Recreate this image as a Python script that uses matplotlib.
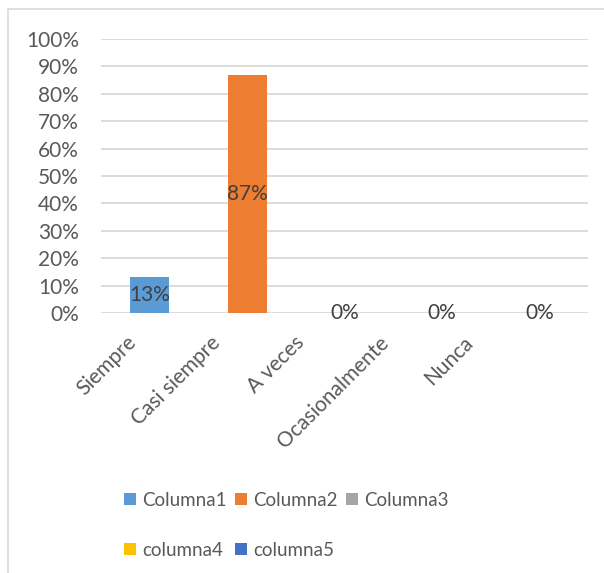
import matplotlib
matplotlib.use("Agg")
import matplotlib.pyplot as plt
import matplotlib.transforms as mtransforms
from matplotlib.patches import Patch, Rectangle

# data
categories = ["Siempre", "Casi siempre", "A veces", "Ocasionalmente", "Nunca"]
values = [0.13, 0.87, 0.0, 0.0, 0.0]
series = ["Columna1", "Columna2", "Columna3", "columna4", "columna5"]
colors = ["#5B9BD5", "#ED7D31", "#A5A5A5", "#FFC000", "#4472C4"]

plt.rcParams['font.family'] = ['Lato', 'DejaVu Sans']

W, H = 604, 573
fig = plt.figure(figsize=(W / 100, H / 100), dpi=100)

# chart area border (cropped on right and bottom)
fig.add_artist(Rectangle((8 / W, -0.1), 1.2, 1 - 9 / H + 0.1, transform=fig.transFigure,
                         fill=False, edgecolor="#D9D9D9", lw=1.2))

ax = fig.add_axes([101 / W, 1 - 313 / H, (588 - 101) / W, (313 - 39) / H])
x = list(range(len(categories)))
bars = ax.bar(x, values, width=0.4, color=colors, zorder=3)

ax.set_xlim(-0.5, len(categories) - 0.5)
ax.set_ylim(0, 1)
ax.set_yticks([i / 10 for i in range(11)])
ax.set_yticklabels([f"{i * 10}%" for i in range(11)])
ax.yaxis.grid(True, color="#D9D9D9", lw=1.3, zorder=0)
for s in ax.spines.values():
    s.set_visible(False)
ax.tick_params(axis="both", length=0, labelsize=15, labelcolor="#595959")
ax.tick_params(axis="y", pad=16)
ax.tick_params(axis="x", pad=19)

ax.set_xticks(x)
ax.set_xticklabels(categories, rotation=45, ha="right", rotation_mode="anchor", va="center")
for i, lab in enumerate(ax.get_xticklabels()):
    shift = mtransforms.ScaledTranslation((-17 - 13 * i) / 100, 0, fig.dpi_scale_trans)
    lab.set_transform(lab.get_transform() + shift)

ax.bar_label(bars, labels=[f"{round(v * 100)}%" for v in values], label_type="center",
             fontsize=15, color="#404040")

# row-major legend order: matplotlib fills columns first
order = [0, 3, 1, 4, 2]
handles = [Patch(facecolor=colors[i], edgecolor="none") for i in order]
labels = [series[i] for i in order]
fig.legend(handles, labels, ncol=3, loc="upper left", bbox_to_anchor=(107 / W, 1 - 475 / H),
           frameon=False, fontsize=13.5, labelcolor="#595959", handlelength=0.64, handleheight=0.64,
           handletextpad=0.32, columnspacing=0.45, labelspacing=1.75)

fig.savefig("out.png", dpi=100)
